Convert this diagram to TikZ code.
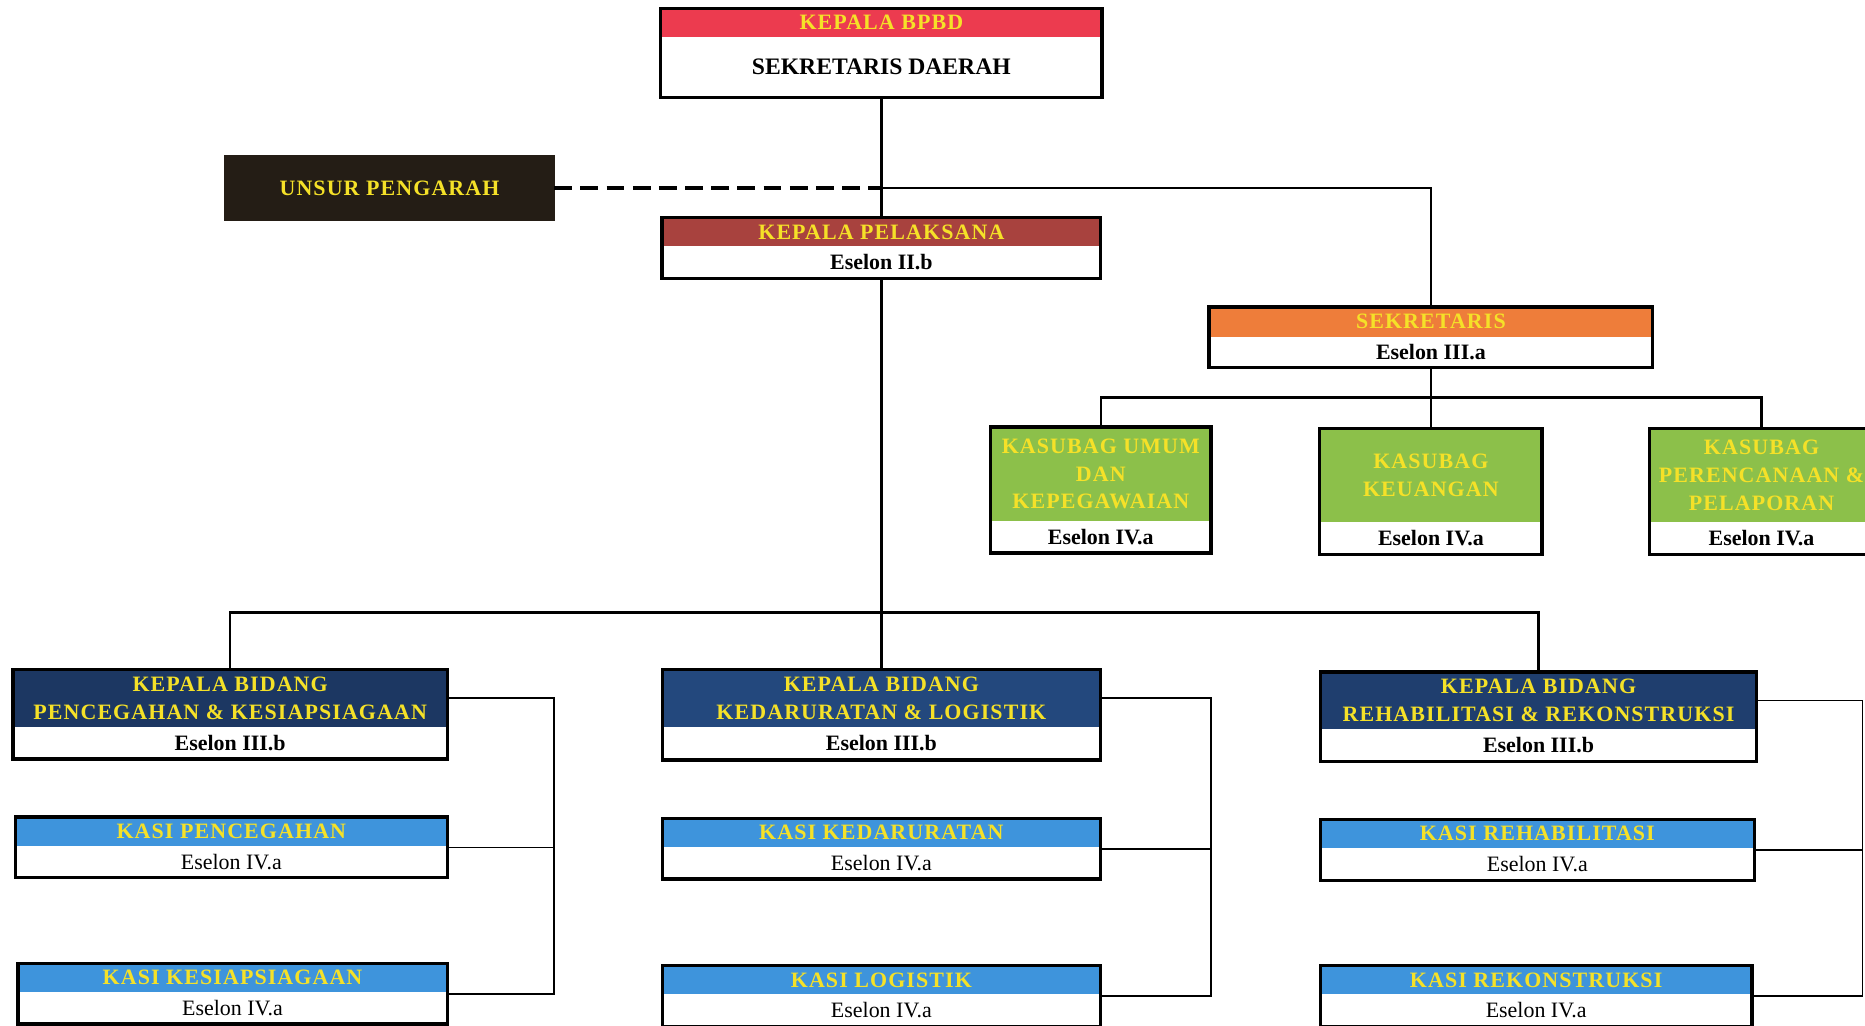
\documentclass[tikz,border=0pt]{standalone}
\usepackage{fontspec}
\setmainfont{Liberation Serif}
\newfontfamily\hdrfont[LetterSpace=5]{Liberation Serif}
\usepackage{tikz}
\usetikzlibrary{positioning,fit}

\definecolor{cRed}{RGB}{236,59,79}
\definecolor{cMaroon}{RGB}{168,66,62}
\definecolor{cOrange}{RGB}{238,125,58}
\definecolor{cGreen}{RGB}{140,192,74}
\definecolor{cNavyA}{RGB}{28,55,98}
\definecolor{cNavyB}{RGB}{35,72,125}
\definecolor{cNavyC}{RGB}{31,62,110}
\definecolor{cSky}{RGB}{62,148,220}
\definecolor{cDark}{RGB}{36,29,21}
\definecolor{hdrYellow}{RGB}{245,225,40}

\tikzset{
  hdr/.style={fill=#1, text=hdrYellow, align=center, inner sep=0pt, outer sep=0pt,
    font=\hdrfont\bfseries\fontsize{10.5}{13.3}\selectfont},
  esl/.style={fill=white, inner sep=0pt, outer sep=0pt, below=0pt of #1,
    font=\bfseries\fontsize{10.5}{13}\selectfont},
  eslthin/.style={esl=#1, font=\fontsize{10.5}{13}\selectfont},
  boxframe/.style={draw, line width=1.6pt, inner sep=0pt, outer sep=0pt},
  link/.style={line width=1.2pt},
  brk/.style={line width=0.8pt},
}

\begin{document}
\begin{tikzpicture}[x=0.2mm, y=-0.2mm]
  \fill[white] (0,0) rectangle (1568,862);
  \useasboundingbox (0,0) rectangle (1568,862);

  % top
  \node[hdr=cRed, minimum width=74.2mm, minimum height=4.8mm] (bpbdh) at (741,19) {KEPALA BPBD};
  \node[esl=bpbdh, minimum width=74.2mm, minimum height=10.2mm, font=\bfseries\fontsize{11.3}{13}\selectfont] (bpbde) {SEKRETARIS DAERAH};
  \node[boxframe, fit=(bpbdh)(bpbde)] (bpbd) {};

  \node[hdr=cDark, draw=cDark, minimum width=55.4mm, minimum height=10.8mm] (unsur) at (327.5,158) {UNSUR PENGARAH};

  \node[hdr=cMaroon, minimum width=73.8mm, minimum height=4.8mm] (pelh) at (741,195) {KEPALA PELAKSANA};
  \node[esl=pelh, minimum width=73.8mm, minimum height=5.4mm] (pele) {Eselon II.b};
  \node[boxframe, fit=(pelh)(pele)] (pel) {};

  \node[hdr=cOrange, minimum width=74.6mm, minimum height=5mm] (sekh) at (1203,270.5) {SEKRETARIS};
  \node[esl=sekh, minimum width=74.6mm, minimum height=5.2mm] (seke) {Eselon III.a};
  \node[boxframe, fit=(sekh)(seke)] (sek) {};

  % kasubag
  \node[hdr=cGreen, minimum width=37mm, minimum height=15.8mm] (umumh) at (925.5,398.5) {KASUBAG UMUM\\DAN\\KEPEGAWAIAN};
  \node[esl=umumh, minimum width=37mm, minimum height=5.4mm] (umume) {Eselon IV.a};
  \node[boxframe, fit=(umumh)(umume)] (umum) {};

  \node[hdr=cGreen, minimum width=37.4mm, minimum height=15.8mm] (keuh) at (1203,399.5) {KASUBAG\\KEUANGAN};
  \node[esl=keuh, minimum width=37.4mm, minimum height=5.4mm] (keue) {Eselon IV.a};
  \node[boxframe, fit=(keuh)(keue)] (keu) {};

  \node[hdr=cGreen, minimum width=37.6mm, minimum height=15.8mm] (renh) at (1481,399.5) {KASUBAG\\PERENCANAAN \&\\PELAPORAN};
  \node[esl=renh, minimum width=37.6mm, minimum height=5.4mm] (rene) {Eselon IV.a};
  \node[boxframe, fit=(renh)(rene)] (ren) {};

  % bidang
  \node[hdr=cNavyA, minimum width=73mm, minimum height=9.6mm] (bid1h) at (193.5,587) {KEPALA BIDANG\\PENCEGAHAN \& KESIAPSIAGAAN};
  \node[esl=bid1h, minimum width=73mm, minimum height=5.4mm] (bid1e) {Eselon III.b};
  \node[boxframe, fit=(bid1h)(bid1e)] (bid1) {};

  \node[hdr=cNavyB, minimum width=73.6mm, minimum height=9.6mm] (bid2h) at (741,587) {KEPALA BIDANG\\KEDARURATAN \& LOGISTIK};
  \node[esl=bid2h, minimum width=73.6mm, minimum height=5.6mm] (bid2e) {Eselon III.b};
  \node[boxframe, fit=(bid2h)(bid2e)] (bid2) {};

  \node[hdr=cNavyC, minimum width=73.4mm, minimum height=9.6mm] (bid3h) at (1293.5,589) {KEPALA BIDANG\\REHABILITASI \& REKONSTRUKSI};
  \node[esl=bid3h, minimum width=73.4mm, minimum height=5.4mm] (bid3e) {Eselon III.b};
  \node[boxframe, fit=(bid3h)(bid3e)] (bid3) {};

  % kasi
  \node[hdr=cSky, minimum width=72.6mm, minimum height=4.8mm] (kpch) at (194.5,699) {KASI PENCEGAHAN};
  \node[eslthin=kpch, minimum width=72.6mm, minimum height=5.4mm] (kpce) {Eselon IV.a};
  \node[boxframe, fit=(kpch)(kpce)] (kpc) {};

  \node[hdr=cSky, minimum width=72.2mm, minimum height=4.8mm] (kksh) at (195.5,822) {KASI KESIAPSIAGAAN};
  \node[eslthin=kksh, minimum width=72.2mm, minimum height=5.4mm] (kkse) {Eselon IV.a};
  \node[boxframe, fit=(kksh)(kkse)] (kks) {};

  \node[hdr=cSky, minimum width=73.6mm, minimum height=4.8mm] (kdrh) at (741,700) {KASI KEDARURATAN};
  \node[eslthin=kdrh, minimum width=73.6mm, minimum height=5.4mm] (kdre) {Eselon IV.a};
  \node[boxframe, fit=(kdrh)(kdre)] (kdr) {};

  \node[hdr=cSky, minimum width=73.6mm, minimum height=4.8mm] (klgh) at (741,824) {KASI LOGISTIK};
  \node[eslthin=klgh, minimum width=73.6mm, minimum height=5.4mm] (klge) {Eselon IV.a};
  \node[boxframe, fit=(klgh)(klge)] (klg) {};

  \node[hdr=cSky, minimum width=73mm, minimum height=4.8mm] (krhh) at (1292.5,701) {KASI REHABILITASI};
  \node[eslthin=krhh, minimum width=73mm, minimum height=5.4mm] (krhe) {Eselon IV.a};
  \node[boxframe, fit=(krhh)(krhe)] (krh) {};

  \node[hdr=cSky, minimum width=72.6mm, minimum height=4.8mm] (krkh) at (1291.5,824) {KASI REKONSTRUKSI};
  \node[eslthin=krkh, minimum width=72.6mm, minimum height=5.4mm] (krke) {Eselon IV.a};
  \node[boxframe, fit=(krkh)(krke)] (krk) {};

  % lines
  \coordinate (jp) at (741,158);
  \coordinate (jb) at (741,515);
  \coordinate (js) at (1203,334);
  \draw[link] (bpbd.south) -- (pel.north);
  \draw[line width=1.7pt, dash pattern=on 3mm off 1.4mm] (unsur.east) -- (jp);
  \draw[link] (jp) -| (sek.north);
  \draw[link] (pel.south) -- (bid2.north);
  \draw[link] (bid1.north) |- (jb) -| (bid3.north);
  \draw[link] (sek.south) -- (keu.north);
  \draw[link] (umum.north) |- (js) -| (ren.north);

  \coordinate (b1) at (466,587);
  \coordinate (b2) at (1018,587);
  \coordinate (b3) at (1566,589);
  \draw[brk] (bid1h.east) -- (b1) |- (kks.east);
  \draw[brk] (kpc.east) -- (kpc.east -| b1);
  \draw[brk] (bid2h.east) -- (b2) |- (klg.east);
  \draw[brk] (kdr.east) -- (kdr.east -| b2);
  \draw[brk] (bid3h.east) -- (b3) |- (krk.east);
  \draw[brk] (krh.east) -- (krh.east -| b3);
\end{tikzpicture}
\end{document}
